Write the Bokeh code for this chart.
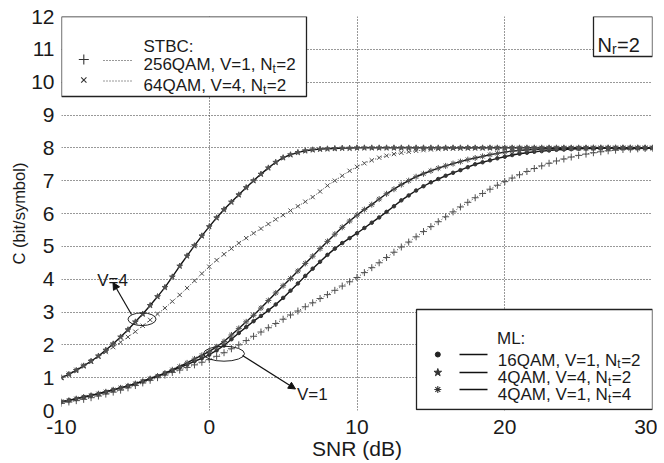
from bokeh.plotting import figure
from bokeh.models import Label, Arrow, NormalHead, FixedTicker, Range1d
from bokeh.embed import file_html
from bokeh.resources import INLINE

# ---------------- data ----------------
snr = [-10, -9.5, -9, -8.5, -8, -7.5, -7, -6.5, -6, -5.5,
       -5, -4.5, -4, -3.5, -3, -2.5, -2, -1.5, -1, -0.5,
       0, 0.5, 1, 1.5, 2, 2.5, 3, 3.5, 4, 4.5,
       5, 5.5, 6, 6.5, 7, 7.5, 8, 8.5, 9, 9.5,
       10, 10.5, 11, 11.5, 12, 12.5, 13, 13.5, 14, 14.5,
       15, 15.5, 16, 16.5, 17, 17.5, 18, 18.5, 19, 19.5,
       20, 20.5, 21, 21.5, 22, 22.5, 23, 23.5, 24, 24.5,
       25, 25.5, 26, 26.5, 27, 27.5, 28, 28.5, 29, 29.5,
       30]

# ML, 4QAM, V=4, Nt=2 (stars)
ml_4qam_v4_nt2 = [1.00, 1.10, 1.22, 1.36, 1.50, 1.66, 1.84, 2.03, 2.24, 2.46,
                  2.70, 2.94, 3.20, 3.47, 3.75, 4.07, 4.40, 4.71, 5.02, 5.32,
                  5.60, 5.87, 6.12, 6.35, 6.57, 6.79, 7.00, 7.20, 7.39, 7.56,
                  7.70, 7.79, 7.86, 7.91, 7.94, 7.96, 7.97, 7.98, 7.99, 7.99,
                  8.00, 8.00, 8.00, 8.00, 8.00, 8.00, 8.00, 8.00, 8.00, 8.00,
                  8.00, 8.00, 8.00, 8.00, 8.00, 8.00, 8.00, 8.00, 8.00, 8.00,
                  8.00, 8.00, 8.00, 8.00, 8.00, 8.00, 8.00, 8.00, 8.00, 8.00,
                  8.00, 8.00, 8.00, 8.00, 8.00, 8.00, 8.00, 8.00, 8.00, 8.00,
                  8.00]

# STBC, 64QAM, V=4, Nt=2 (x)
stbc_64qam_v4_nt2 = [1.00, 1.12, 1.24, 1.37, 1.50, 1.64, 1.78, 1.93, 2.08, 2.24,
                     2.40, 2.58, 2.76, 2.94, 3.12, 3.32, 3.52, 3.73, 3.95, 4.17,
                     4.38, 4.58, 4.76, 4.93, 5.10, 5.25, 5.40, 5.54, 5.68, 5.82,
                     5.95, 6.09, 6.22, 6.36, 6.50, 6.67, 6.85, 7.00, 7.15, 7.30,
                     7.42, 7.53, 7.62, 7.70, 7.76, 7.81, 7.85, 7.88, 7.91, 7.93,
                     7.95, 7.96, 7.97, 7.98, 7.98, 7.99, 7.99, 7.99, 8.00, 8.00,
                     8.00, 8.00, 8.00, 8.00, 8.00, 8.00, 8.00, 8.00, 8.00, 8.00,
                     8.00, 8.00, 8.00, 8.00, 8.00, 8.00, 8.00, 8.00, 8.00, 8.00,
                     8.00]

# ML, 4QAM, V=1, Nt=4 (asterisks)
ml_4qam_v1_nt4 = [0.27, 0.31, 0.36, 0.41, 0.46, 0.51, 0.57, 0.63, 0.69, 0.75,
                  0.82, 0.89, 0.97, 1.05, 1.14, 1.24, 1.34, 1.45, 1.57, 1.68,
                  1.80, 1.94, 2.10, 2.30, 2.50, 2.70, 2.90, 3.12, 3.35, 3.58,
                  3.80, 4.02, 4.25, 4.48, 4.70, 4.93, 5.15, 5.37, 5.58, 5.77,
                  5.95, 6.12, 6.27, 6.44, 6.60, 6.74, 6.88, 7.00, 7.12, 7.21,
                  7.30, 7.38, 7.45, 7.52, 7.58, 7.64, 7.69, 7.74, 7.79, 7.83,
                  7.87, 7.90, 7.92, 7.94, 7.95, 7.96, 7.97, 7.98, 7.98, 7.99,
                  7.99, 7.99, 8.00, 8.00, 8.00, 8.00, 8.00, 8.00, 8.00, 8.00,
                  8.00]

# ML, 16QAM, V=1, Nt=2 (dots)
ml_16qam_v1_nt2 = [0.27, 0.31, 0.36, 0.41, 0.46, 0.51, 0.57, 0.63, 0.69, 0.75,
                   0.82, 0.89, 0.97, 1.05, 1.13, 1.22, 1.31, 1.40, 1.50, 1.59,
                   1.70, 1.83, 1.98, 2.17, 2.36, 2.54, 2.72, 2.88, 3.05, 3.23,
                   3.43, 3.65, 3.87, 4.10, 4.32, 4.53, 4.74, 4.93, 5.10, 5.25,
                   5.40, 5.56, 5.72, 5.88, 6.05, 6.22, 6.40, 6.55, 6.70, 6.83,
                   6.95, 7.05, 7.15, 7.24, 7.32, 7.41, 7.50, 7.56, 7.62, 7.68,
                   7.73, 7.78, 7.82, 7.85, 7.88, 7.90, 7.92, 7.94, 7.95, 7.96,
                   7.97, 7.98, 7.98, 7.99, 7.99, 8.00, 8.00, 8.00, 8.00, 8.00,
                   8.00]

# STBC, 256QAM, V=1, Nt=2 (+)
stbc_256qam_v1_nt2 = [0.22, 0.26, 0.30, 0.34, 0.39, 0.44, 0.50, 0.56, 0.62, 0.69,
                      0.76, 0.84, 0.92, 1.00, 1.08, 1.16, 1.23, 1.31, 1.39, 1.47,
                      1.55, 1.65, 1.76, 1.88, 2.00, 2.13, 2.26, 2.39, 2.52, 2.65,
                      2.78, 2.91, 3.03, 3.16, 3.28, 3.41, 3.53, 3.66, 3.79, 3.92,
                      4.05, 4.20, 4.35, 4.50, 4.66, 4.82, 4.98, 5.13, 5.29, 5.45,
                      5.60, 5.75, 5.90, 6.05, 6.20, 6.34, 6.48, 6.61, 6.74, 6.86,
                      6.97, 7.08, 7.18, 7.28, 7.37, 7.45, 7.53, 7.60, 7.66, 7.72,
                      7.77, 7.81, 7.85, 7.88, 7.91, 7.93, 7.95, 7.96, 7.97, 7.98,
                      7.98]

x_ticks = [-10, 0, 10, 20, 30]
x_tick_labels = {-10: "-10", 0: "0", 10: "10", 20: "20", 30: "30"}
y_ticks = [0, 1, 2, 3, 4, 5, 6, 7, 8, 9, 10, 11, 12]

for s in (ml_4qam_v4_nt2, stbc_64qam_v4_nt2, ml_4qam_v1_nt4, ml_16qam_v1_nt2, stbc_256qam_v1_nt2):
    assert len(s) == len(snr)

# ---------------- layout helpers (pixel -> data, for annotations) ----------------
FL, FR, FT, FB = 62.0, 653.0, 17.0, 411.0   # frame edges in page pixels
def px2x(px):
    return -10 + (px - FL) * 40.0 / (FR - FL)
def py2y(py):
    return (FB - py) * 12.0 / (FB - FT)
def dw(w):
    return w * 40.0 / (FR - FL)
def dh(h):
    return h * 12.0 / (FB - FT)

AW = {'0': 556, '1': 556, '2': 556, '3': 556, '4': 556, '5': 556, '6': 556,
      '7': 556, '8': 556, '9': 556, 'Q': 778, 'A': 667, 'M': 833, ',': 278,
      ' ': 278, 'V': 667, '=': 584, 'N': 722, 't': 278, 'r': 333, 'L': 556,
      'S': 667, 'T': 611, 'B': 667, 'C': 722, ':': 278}
def tw(s, size):
    return sum(AW.get(c, 556) for c in s) / 1000.0 * size

FONT = "Liberation Sans"
LINE = "#151515"
MARK = "#505050"
TXT = "#1a1a1a"

p = figure(frame_width=591, frame_height=394,
           x_range=Range1d(-10, 30), y_range=Range1d(0, 12),
           output_backend="svg", toolbar_location=None,
           min_border_left=61, min_border_right=5, min_border_top=16, min_border_bottom=45,
           x_axis_label="SNR (dB)", y_axis_label="C (bit/symbol)")
p.outline_line_color = None
p.background_fill_color = "white"
p.border_fill_color = "white"
p.xaxis.ticker = FixedTicker(ticks=x_ticks)
p.yaxis.ticker = FixedTicker(ticks=y_ticks)
p.xaxis.major_label_overrides = x_tick_labels
for ax in (p.xaxis[0], p.yaxis[0]):
    ax.axis_line_color = None
    ax.major_tick_line_color = None
    ax.minor_tick_line_color = None
    ax.major_tick_out = 0
    ax.major_tick_in = 0
    ax.minor_tick_out = 0
    ax.minor_tick_in = 0
    ax.major_label_text_font = FONT
    ax.major_label_text_font_size = "21px"
    ax.major_label_text_color = TXT
    ax.axis_label_text_font = FONT
    ax.axis_label_text_font_style = "normal"
    ax.axis_label_text_color = TXT
p.xaxis.major_label_standoff = 9
p.yaxis.major_label_standoff = 7
p.xaxis.axis_label_standoff = 0
p.yaxis.axis_label_standoff = 0
p.xaxis.axis_label_text_font_size = "21px"
p.yaxis.axis_label_text_font_size = "16.5px"
p.grid.grid_line_color = "#333333"
p.grid.grid_line_dash = "1 2"
p.grid.grid_line_width = 1

# legend / label boxes (drawn first so curves and samples sit above)
p.quad(left=[px2x(62), px2x(417), px2x(594)],
       right=[px2x(307), px2x(653), px2x(653)],
       top=[py2y(17), py2y(310), py2y(17)],
       bottom=[py2y(97), py2y(410), py2y(57)],
       fill_color="white", line_color="#222222", line_width=1.3)

# ---------------- curves ----------------
p.line(snr, stbc_256qam_v1_nt2, line_color="#444444", line_width=1, line_dash="1 2")
p.scatter(snr, stbc_256qam_v1_nt2, marker="cross", size=7, line_color=MARK, line_width=1)
p.line(snr, stbc_64qam_v4_nt2, line_color="#444444", line_width=1, line_dash="1 2")
p.scatter(snr, stbc_64qam_v4_nt2, marker="x", size=6, line_color=MARK, line_width=1)

p.line(snr, ml_16qam_v1_nt2, line_color=LINE, line_width=1.4)
p.scatter(snr, ml_16qam_v1_nt2, marker="circle", size=3.5, fill_color="#333333", line_color="#333333")
p.line(snr, ml_4qam_v1_nt4, line_color=LINE, line_width=1.4)
p.scatter(snr, ml_4qam_v1_nt4, marker="asterisk", size=6, line_color=MARK, line_width=1)
p.line(snr, ml_4qam_v4_nt2, line_color=LINE, line_width=1.4)
p.scatter(snr, ml_4qam_v4_nt2, marker="star", size=6, fill_color=MARK, line_color=MARK)

# ---------------- annotations (ellipses + arrows) ----------------
p.ellipse(x=[px2x(142.5), px2x(224.5)], y=[py2y(319.7), py2y(354.2)],
          width=[dw(28), dw(41)], height=[dh(12.7), dh(15)],
          fill_color=None, line_color="#222222", line_width=1)
p.add_layout(Arrow(end=NormalHead(size=7, fill_color="#111111", line_color="#111111"),
                   x_start=px2x(132), y_start=py2y(315), x_end=px2x(113.5), y_end=py2y(283),
                   line_color="#111111", line_width=1.2))
p.add_layout(Arrow(end=NormalHead(size=7, fill_color="#111111", line_color="#111111"),
                   x_start=px2x(243), y_start=py2y(356), x_end=px2x(296), y_end=py2y(389.5),
                   line_color="#111111", line_width=1.2))
p.add_layout(Label(x=px2x(113), y=py2y(281), text="V=4", text_align="center",
                   text_baseline="alphabetic", text_font=FONT, text_font_size="17px",
                   text_color=TXT))
p.add_layout(Label(x=px2x(297.5), y=py2y(395), text="V=1", text_align="left",
                   text_baseline="alphabetic", text_font=FONT, text_font_size="17px",
                   text_color=TXT))

# ---------------- legends ----------------
def sub_label(xpx, ypx, main, sub, tail, size=17, subsize=12, drop=4):
    w1 = tw(main, size)
    p.add_layout(Label(x=px2x(xpx), y=py2y(ypx), text=main, text_baseline="alphabetic",
                       text_font=FONT, text_font_size=f"{size}px", text_color=TXT))
    p.add_layout(Label(x=px2x(xpx), y=py2y(ypx), x_offset=w1, y_offset=-drop, text=sub,
                       text_baseline="alphabetic", text_font=FONT,
                       text_font_size=f"{subsize}px", text_color=TXT))
    p.add_layout(Label(x=px2x(xpx), y=py2y(ypx), x_offset=w1 + tw(sub, subsize) + 0.5,
                       text=tail, text_baseline="alphabetic", text_font=FONT,
                       text_font_size=f"{size}px", text_color=TXT))

# STBC legend
p.add_layout(Label(x=px2x(144), y=py2y(46.7), text="STBC:", text_baseline="alphabetic",
                   text_font=FONT, text_font_size="17px", text_color=TXT))
sub_label(144, 65, "256QAM, V=1, N", "t", "=2")
sub_label(144, 86, "64QAM, V=4, N", "t", "=2")
p.scatter([px2x(84.3)], [py2y(60)], marker="cross", size=10, line_color="#333333", line_width=1.1)
p.scatter([px2x(84.3)], [py2y(80.5)], marker="x", size=7.5, line_color="#333333", line_width=1.1)
p.line([px2x(104), px2x(133.5)], [py2y(61), py2y(61)], line_color="#333333", line_dash="1 2")
p.line([px2x(104), px2x(133.5)], [py2y(81.5), py2y(81.5)], line_color="#333333", line_dash="1 2")

# ML legend
p.add_layout(Label(x=px2x(497.5), y=py2y(338.5), text="ML:", text_baseline="alphabetic",
                   text_font=FONT, text_font_size="17px", text_color=TXT))
sub_label(498.3, 360.5, "16QAM, V=1, N", "t", "=2")
sub_label(498.3, 378, "4QAM, V=4, N", "t", "=2")
sub_label(498.3, 395, "4QAM, V=1, N", "t", "=4")
p.scatter([px2x(438.3)], [py2y(355)], marker="circle", size=5, fill_color="#222222", line_color="#222222")
p.scatter([px2x(438.3)], [py2y(373)], marker="star", size=8, fill_color="#333333", line_color="#333333")
p.scatter([px2x(438.3)], [py2y(390)], marker="asterisk", size=7, line_color="#333333", line_width=1.1)
for ypx in (355, 373, 390):
    p.line([px2x(460), px2x(488)], [py2y(ypx), py2y(ypx)], line_color="#111111", line_width=1.3)

# N_r box
sub_label(598, 45.5, "N", "r", "=2", size=20, subsize=14, drop=4)

# file tag
p.add_layout(Label(x=px2x(652), y=py2y(11), text="my-capacity-mimo-8bps.gle", text_align="right",
                   text_baseline="alphabetic", text_font=FONT, text_font_size="6px",
                   text_color="#444444"))

open("out.html", "w").write(file_html(p, INLINE))
